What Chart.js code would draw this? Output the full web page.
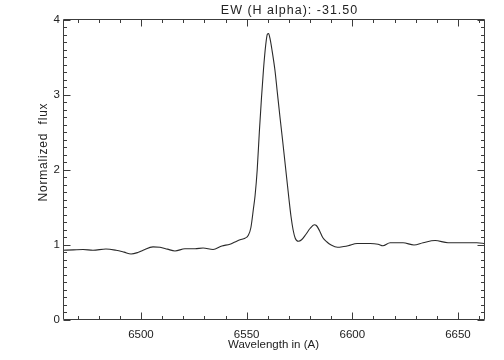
<!DOCTYPE html>
<html><head><meta charset="utf-8">
<script src="https://cdn.jsdelivr.net/npm/chart.js@4/dist/chart.umd.min.js"></script>
<style>html,body{margin:0;padding:0;background:#fff}#wrap{width:504px;height:360px;position:relative}</style>
</head><body><div id="wrap"><canvas id="c" width="504" height="360"></canvas></div>
<script>
const titleText = "EW (H alpha): -31.50";
const xTitleText = "Wavelength in (A)";
const yTitleText = "Normalized  flux";

const wavelength = [
  6463.1, 6468.0, 6472.6, 6477.3, 6483.4, 6488.2, 6492.0, 6495.3, 6498.5, 6501.0,
  6505.7, 6509.0, 6512.5, 6516.1, 6520.8, 6525.6, 6529.4, 6534.1, 6538.3, 6542.1,
  6544.5, 6546.9, 6549.2, 6550.8, 6552.0, 6553.2, 6554.0, 6555.0, 6556.0, 6557.0,
  6558.0, 6559.0, 6559.8, 6560.4, 6561.0, 6562.0, 6563.4, 6564.5, 6565.8, 6567.0,
  6568.0, 6569.0, 6570.0, 6571.0, 6572.0, 6573.0, 6574.5, 6576.0, 6578.0, 6580.0,
  6582.0, 6583.0, 6584.5, 6586.0, 6588.0, 6590.0, 6593.0, 6596.0, 6598.0, 6602.3,
  6608.4, 6612.2, 6614.5, 6617.9, 6624.0, 6629.2, 6633.5, 6639.2, 6645.3, 6652.4,
  6658.9, 6662.8
];
const flux = [
  0.93, 0.935, 0.94, 0.93, 0.947, 0.93, 0.905, 0.88, 0.90, 0.93,
  0.975, 0.97, 0.945, 0.92, 0.95, 0.95, 0.96, 0.94, 0.987, 1.01,
  1.04, 1.07, 1.09, 1.13, 1.23, 1.48, 1.66, 2.00, 2.50, 2.95,
  3.35, 3.66, 3.81, 3.82, 3.76, 3.60, 3.33, 3.04, 2.70, 2.40,
  2.14, 1.88, 1.62, 1.38, 1.20, 1.09, 1.05, 1.07, 1.14, 1.22,
  1.27, 1.26, 1.19, 1.10, 1.04, 1.00, 0.97, 0.98, 0.99, 1.02,
  1.02, 1.01, 0.99, 1.03, 1.03, 1.00, 1.03, 1.06, 1.03, 1.03,
  1.03, 1.02
];

const xMajorTicks = [6500, 6550, 6600, 6650];
const xMinorTicks = [6470, 6480, 6490, 6510, 6520, 6530, 6540, 6560, 6570, 6580, 6590, 6610, 6620, 6630, 6640, 6660];
const yMajorTicks = [0, 1, 2, 3, 4];
const yMinorTicks = [];
for (let i = 1; i < 40; i++) { if (i % 10 !== 0) yMinorTicks.push(i / 10); }
const xRange = [6463.1, 6662.8];
const yRange = [0, 4.013];

const AXIS_COLOR = '#3c3c3c';
const TEXT_COLOR = '#222';
const FONT = '"Liberation Sans", Arial, sans-serif';

const idlAxes = {
  id: 'idlAxes',
  afterDatasetsDraw(chart) {
    const ctx = chart.ctx, a = chart.chartArea;
    const xs = chart.scales.x, ys = chart.scales.y;
    ctx.save();
    ctx.strokeStyle = AXIS_COLOR;
    ctx.lineWidth = 1;
    const L = Math.round(a.left) + 0.5, R = Math.round(a.right) - 0.5;
    const T = Math.round(a.top) + 0.5, B = Math.round(a.bottom) - 0.5;
    ctx.beginPath();
    ctx.rect(L, T, R - L, B - T);
    ctx.stroke();
    ctx.beginPath();
    const xt = (v, len) => {
      const p = Math.round(xs.getPixelForValue(v)) + 0.5;
      ctx.moveTo(p, B); ctx.lineTo(p, B - len);
      ctx.moveTo(p, T); ctx.lineTo(p, T + len);
    };
    const yt = (v, len) => {
      const p = Math.round(ys.getPixelForValue(v)) + 0.5;
      ctx.moveTo(L, p); ctx.lineTo(L + len, p);
      ctx.moveTo(R, p); ctx.lineTo(R - len, p);
    };
    xMajorTicks.forEach(v => xt(v, 7));
    xMinorTicks.forEach(v => xt(v, 3.5));
    yMajorTicks.forEach(v => yt(v, 7));
    yMinorTicks.forEach(v => yt(v, 3.5));
    ctx.stroke();

    ctx.fillStyle = TEXT_COLOR;
    ctx.textBaseline = 'middle';
    ctx.textAlign = 'center';
    ctx.font = '12.5px ' + FONT;
    ctx.letterSpacing = '1px';
    ctx.fillText(titleText, 289.5, 10.5);
    ctx.letterSpacing = '0px';
    ctx.font = '11.5px ' + FONT;
    ctx.fillText(xTitleText, 273.5, 345);
    ctx.translate(43.5, 152);
    ctx.rotate(-Math.PI / 2);
    ctx.font = '12px ' + FONT;
    ctx.letterSpacing = '0.8px';
    ctx.fillText(yTitleText, 0, 0);
    ctx.restore();
  }
};

new Chart(document.getElementById('c'), {
  type: 'line',
  data: {
    datasets: [{
      data: wavelength.map((w, i) => ({ x: w, y: flux[i] })),
      borderColor: '#2a2a2a',
      borderWidth: 1.1,
      pointRadius: 0,
      fill: false,
      cubicInterpolationMode: 'monotone'
    }]
  },
  options: {
    responsive: false,
    animation: false,
    devicePixelRatio: 1,
    layout: { padding: { top: 19, right: 19, left: 0, bottom: 0 } },
    plugins: { legend: { display: false }, tooltip: { enabled: false }, title: { display: false } },
    scales: {
      x: {
        type: 'linear', min: xRange[0], max: xRange[1],
        afterBuildTicks: s => { s.ticks = xMajorTicks.map(v => ({ value: v })); },
        afterFit: s => { s.height = 40; },
        grid: { display: false, drawTicks: false },
        border: { display: false },
        ticks: { color: TEXT_COLOR, font: { size: 11.5, family: FONT }, padding: 8, maxRotation: 0, autoSkip: false, callback: v => String(v) }
      },
      y: {
        type: 'linear', min: yRange[0], max: yRange[1],
        afterBuildTicks: s => { s.ticks = yMajorTicks.map(v => ({ value: v })); },
        afterFit: s => { s.width = 63; },
        grid: { display: false, drawTicks: false },
        border: { display: false },
        ticks: { color: TEXT_COLOR, font: { size: 11.5, family: FONT }, padding: 3, autoSkip: false, callback: v => String(v) }
      }
    }
  },
  plugins: [idlAxes]
});
</script>
</body></html>
